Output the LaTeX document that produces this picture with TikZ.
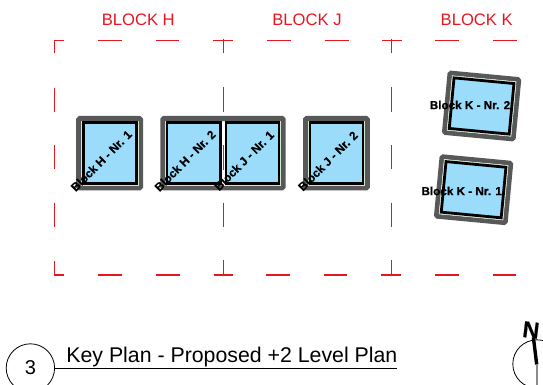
\documentclass[tikz,border=0pt]{standalone}
\usepackage{fontspec}
\setmainfont{Liberation Sans}
\newfontfamily\heavyfont[BoldFeatures={FakeBold=0.5}]{Liberation Sans}
\definecolor{gridred}{HTML}{E8141E}
\definecolor{wallgray}{HTML}{585858}
\definecolor{glass}{HTML}{9ADCFA}
\definecolor{paleline}{HTML}{CFE8D2}
\tikzset{
  gridline/.style={draw=gridred,line width=1.5pt},
  blocktitle/.style={text=gridred,font=\fontsize{16.6}{18}\selectfont,inner sep=0pt},
  blocklabel/.style={text=black,font=\heavyfont\bfseries\fontsize{11.7}{13}\selectfont,inner sep=0pt},
  wall/.style={draw=wallgray,line width=4.8pt,rounded corners=1.2pt},
  liner/.style={draw=paleline,fill=white,line width=0.7pt},
  pane/.style={draw=black,fill=glass,line width=2.8pt},
}
% centre x, centre y, half width, half height, angle
\newcommand{\planblock}[5]{%
  \begin{scope}[shift={(#1,#2)},rotate=#5]
    \draw[wall] ({-#3+2.4},{-#4+2.4}) rectangle ({#3-2.4},{#4-2.4});
    \draw[liner] ({-#3+5},{-#4+5}) rectangle ({#3-5},{#4-5});
    \draw[pane] ({-#3+6.9},{-#4+6.9}) rectangle ({#3-6.9},{#4-6.9});
  \end{scope}}
\begin{document}
\begin{tikzpicture}[x=1pt,y=-1pt]
\useasboundingbox (0,0) rectangle (543,385);
\clip (0,0) rectangle (543,385);
% grid: horizontals
\draw[gridline] (64,40.5)--(54.5,40.5)--(54.5,53.3);
\draw[gridline] (98.3,40.5)--(121.8,40.5) (155.7,40.5)--(179.4,40.5) (213.4,40.5)--(233.2,40.5)
  (267,40.5)--(290.5,40.5) (324.7,40.5)--(348.7,40.5) (382.3,40.5)--(401.6,40.5)
  (435.3,40.5)--(459.2,40.5) (493.2,40.5)--(516.6,40.5);
\draw[gridline] (54.5,261)--(54.5,275)--(64,275);
\draw[gridline] (98.3,275)--(121.8,275) (155.7,275)--(179.6,275) (213.5,275)--(232.6,275)
  (266.4,275)--(290,275) (323.9,275)--(347.4,275) (381.3,275)--(401.4,275)
  (435,275)--(458.8,275) (492.7,275)--(516.3,275);
% grid: verticals
\draw[gridline] (54.5,88)--(54.5,111.7) (54.5,145.3)--(54.5,169.3) (54.5,202.7)--(54.5,226.7);
\draw[gridline] (223.5,39)--(223.5,53.3) (223.5,87.3)--(223.5,111.7)
  (223.5,202.7)--(223.5,226.7) (223.5,260)--(223.5,275);
\draw[gridline] (391.5,39)--(391.5,53.3) (391.5,87.3)--(391.5,111.7) (391.5,145.3)--(391.5,169.3)
  (391.5,202.7)--(391.5,226.7) (391.5,260)--(391.5,275);
% block titles
\node[blocktitle] (titleH) at (138.3,20) {BLOCK H};
\node[blocktitle] (titleJ) at (307,20) {BLOCK J};
\node[blocktitle] (titleK) at (476.7,20) {BLOCK K};
% blocks H and J
\planblock{109.6}{153.2}{33.4}{37.2}{0}
\planblock{336.4}{153.2}{33.4}{37.2}{0}
\draw[wall] (162.7,118.4) rectangle (283.3,188);
\draw[liner] (165.3,121) rectangle (280.7,185.4);
\draw[pane] (167,122.9) rectangle (220.3,183.5);
\draw[pane] (226,122.9) rectangle (279,183.5);
\draw[gridline] (223.5,145.3)--(223.5,169.7);
% blocks K
\planblock{481.6}{106}{37}{32.3}{-5.4}
\planblock{473.6}{189.7}{37}{32.3}{-5.4}
% block labels
\node[blocklabel,rotate=45] (labelH1) at (101.2,160.8) {Block H - Nr. 1};
\node[blocklabel,rotate=45] (labelH2) at (185,160.8) {Block H - Nr. 2};
\node[blocklabel,rotate=45] (labelJ1) at (244,160.6) {Block J - Nr. 1};
\node[blocklabel,rotate=45] (labelJ2) at (327.8,161) {Block J - Nr. 2};
\node[blocklabel] (labelK2) at (470,105) {Block K - Nr. 2};
\node[blocklabel] (labelK1) at (461.7,191) {Block K - Nr. 1};
% view title
\node[circle,draw=black,line width=0.8pt,minimum size=48.4pt,inner sep=0pt,
  font=\fontsize{20}{22}\selectfont] (viewnum) at (30.4,368) {3};
\coordinate (ruleend) at (397,368);
\draw[black,line width=1pt] (viewnum.east) -- (ruleend);
\node[anchor=base west,inner sep=0pt,font=\fontsize{21.3}{24}\selectfont] (viewtitle) at (66.2,362.5) {Key Plan - Proposed +2 Level Plan};
% north arrow
\node[circle,draw=black,line width=0.8pt,minimum size=48.4pt,inner sep=0pt] (northring) at (537,364) {};
\coordinate (needletop) at (533.4,337.5);
\coordinate (needlefoot) at (536.7,364.5);
\coordinate (staffend) at (536.7,386);
\draw[wallgray!70!white,line width=2pt] (needlefoot) -- (staffend);
\draw[black,line width=3.4pt] (needletop) -- (needlefoot);
\node[rotate=-7,inner sep=0pt,font=\heavyfont\bfseries\fontsize{23}{25}\selectfont] (northmark) at (531,330) {N};
\end{tikzpicture}
\end{document}
